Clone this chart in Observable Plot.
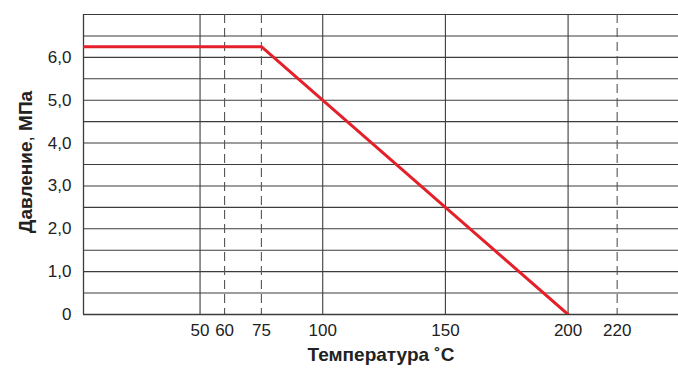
<!DOCTYPE html>
<html>
<head>
<meta charset="utf-8">
<script src="https://cdn.jsdelivr.net/npm/d3@7"></script>
<script src="https://cdn.jsdelivr.net/npm/@observablehq/plot@0.6"></script>
<style>
  html, body { margin: 0; padding: 0; background: #fff; }
  svg { font-family: "Liberation Sans", Arial, sans-serif; }
</style>
</head>
<body>
<div id="chart"></div>
<script>
// Data
const temperatures = [0, 75, 200];          // °C
const pressures = [6.25, 6.25, 0];          // MPa
const solidTemps = [50, 100, 150, 200];
const dashedTemps = [60, 75, 220];
const xTickValues = [50, 60, 75, 100, 150, 200, 220];
const yTickValues = [0, 1, 2, 3, 4, 5, 6];
const yGridValues = [0.5, 1, 1.5, 2, 2.5, 3, 3.5, 4, 4.5, 5, 5.5, 6, 6.5, 7];
const xTitle = "Температура ˚C";
const yTitle = ["Давление", ", ", "МПа"];

const curve = temperatures.map((t, i) => ({t, p: pressures[i]}));

const gridColor = "#3c3c3c";

const plot = Plot.plot({
  width: 678,
  height: 369,
  marginLeft: 83,
  marginTop: 14,
  marginBottom: 55,
  marginRight: 0,
  style: {fontFamily: "Liberation Sans, Arial, sans-serif", fontSize: "17px", color: "#222", background: "#fff"},
  x: {domain: [2.5, 245], axis: null},
  y: {domain: [0, 7], axis: null},
  marks: [
    Plot.ruleY(yGridValues, {stroke: gridColor, strokeWidth: 1.1}),
    Plot.ruleX(solidTemps, {stroke: gridColor, strokeWidth: 1.1}),
    Plot.ruleX(dashedTemps, {stroke: "#555", strokeWidth: 1.1, strokeDasharray: "9,5"}),
    Plot.ruleX([2.5], {stroke: gridColor, strokeWidth: 1.3}),
    Plot.ruleY([0], {stroke: gridColor, strokeWidth: 1.4}),
    Plot.line(curve, {x: "t", y: "p", stroke: "#e4202a", strokeWidth: 3, clip: true}),
    Plot.axisX({ticks: xTickValues, tickSize: 0, tickPadding: 9, fontSize: 17, fill: "#222", label: null}),
    Plot.axisY({ticks: yTickValues, tickSize: 0, tickPadding: 12, fontSize: 17, fill: "#222", label: null,
      tickFormat: d => d === 0 ? "0" : d3.format(".1f")(d).replace(".", ",")}),
    Plot.text([xTitle], {frameAnchor: "bottom", dy: 46, fontSize: 19, fontWeight: "bold", fill: "#222",
      text: d => d})
  ]
});

const svg = d3.select(plot);
// Y title with mixed weights
const yt = svg.append("text")
  .attr("transform", "translate(32, 162) rotate(-90)")
  .attr("text-anchor", "middle")
  .attr("font-size", 19)
  .attr("fill", "#222");
yt.append("tspan").attr("font-weight", "bold").text(yTitle[0]);
yt.append("tspan").attr("font-weight", "normal").text(yTitle[1]);
yt.append("tspan").attr("font-weight", "bold").text(yTitle[2]);

document.getElementById("chart").appendChild(plot);
</script>
</body>
</html>
